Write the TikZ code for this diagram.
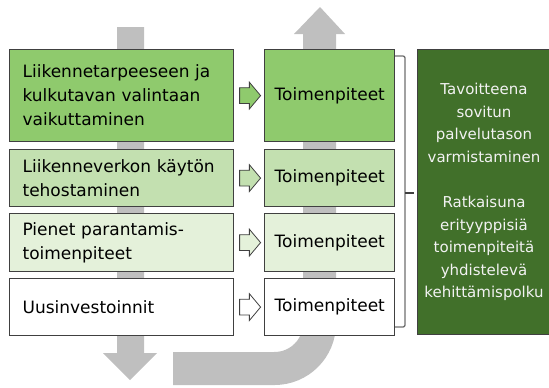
\documentclass[tikz,border=0pt]{standalone}
\usepackage{fontspec}
\setmainfont{DejaVu Sans}
\usetikzlibrary{positioning,shapes.arrows}
\definecolor{greenA}{HTML}{8FCA6D}
\definecolor{greenB}{HTML}{C3E0B0}
\definecolor{greenC}{HTML}{E4F1DA}
\definecolor{greenD}{HTML}{41702A}
\definecolor{boxline}{HTML}{404040}
\definecolor{arrowgray}{HTML}{BFBFBF}
\definecolor{bracecol}{HTML}{6F6F6F}
\definecolor{goaltext}{HTML}{F2F2F2}

\begin{document}
\begin{tikzpicture}[x=1pt,y=-1pt,
  leftbox/.style={draw=boxline, line width=1.2pt, anchor=north west, text width=198pt,
    inner xsep=13pt, inner ysep=0pt, align=left, font=\fontsize{17}{24}\selectfont},
  rightbox/.style={draw=boxline, line width=1.2pt, minimum width=130pt, inner sep=0pt,
    font=\fontsize{17}{24}\selectfont},
  smallarrow/.style={single arrow, draw=boxline, line width=0.8pt, minimum height=21pt,
    inner xsep=0pt, inner ysep=7.5pt, single arrow head extend=5.5pt,
    single arrow tip angle=100},
  goalbox/.style={draw=boxline, line width=1pt, fill=greenD, anchor=north west,
    text=goaltext, align=center, font=\fontsize{15}{22.6}\selectfont}]
\useasboundingbox (0,0) rectangle (549,388);

% gray flow arrows behind the boxes
\fill[arrowgray] (117,27) -- (144,27) -- (144,353) -- (157,353) -- (130,380) -- (103,353) -- (117,353) -- cycle;
\draw[arrowgray, line width=33pt, rounded corners=45pt] (173,368.5) -| (319.5,33);
\fill[arrowgray] (294,34) -- (345,34) -- (320,7) -- cycle;

% left column
\node[leftbox, fill=greenA, minimum height=92pt] (l1) at (9,49) {Liikennetarpeeseen ja\\kulkutavan valintaan\\vaikuttaminen};
\node[leftbox, fill=greenB, minimum height=57pt] (l2) at (9,149) {Liikenneverkon käytön\\tehostaminen};
\node[leftbox, fill=greenC, minimum height=58pt] (l3) at (9,213) {Pienet parantamis-\\toimenpiteet};
\node[leftbox, fill=white, minimum height=57pt] (l4) at (9,278) {Uusinvestoinnit};

% right column
\node[rightbox, fill=greenA, minimum height=92pt, right=30pt of l1] (r1) {Toimenpiteet};
\node[rightbox, fill=greenB, minimum height=57pt, right=30pt of l2] (r2) {Toimenpiteet};
\node[rightbox, fill=greenC, minimum height=58pt, right=30pt of l3] (r3) {Toimenpiteet};
\node[rightbox, fill=white, minimum height=57pt, right=30pt of l4] (r4) {Toimenpiteet};

% small arrows
\node[smallarrow, fill=greenA, right=5pt of l1] (a1) {};
\node[smallarrow, fill=greenB, right=5pt of l2] (a2) {};
\node[smallarrow, fill=greenC, right=5pt of l3] (a3) {};
\node[smallarrow, fill=white, right=5pt of l4] (a4) {};

% bracket
\draw[bracecol, line width=1.3pt, rounded corners=2pt] (395,56) -| (405,327) -- (395,327);
\draw[boxline, line width=1.3pt] (405,193) -- (414,193);

% goal box
\node[goalbox, minimum width=133pt, minimum height=285pt] (goal) at (417,49)
  {Tavoitteena\\sovitun\\palvelutason\\varmistaminen\\[22.6pt]Ratkaisuna\\erityyppisiä\\toimenpiteitä\\yhdistelevä\\kehittämispolku};
\end{tikzpicture}
\end{document}
